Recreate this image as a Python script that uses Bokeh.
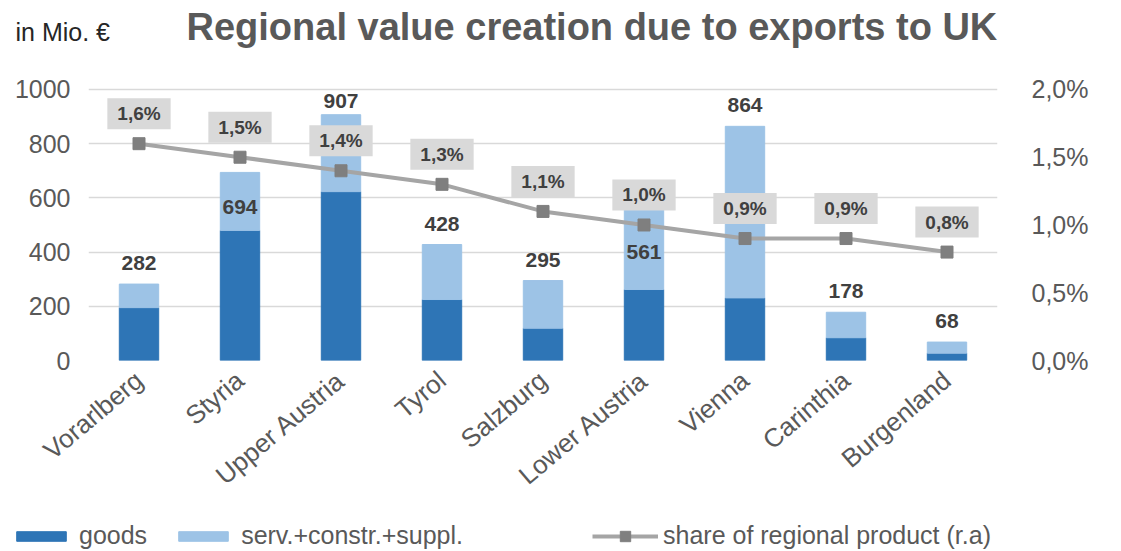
from bokeh.plotting import figure
from bokeh.layouts import column
from bokeh.models import (FactorRange, Range1d, LinearAxis, FixedTicker, CustomJSTickFormatter,
                          Label, Legend, LegendItem, ColumnDataSource)
from bokeh.embed import file_html
from bokeh.resources import INLINE
from bokeh.core.properties import value

# ---- data ----
regions = ["Vorarlberg", "Styria", "Upper Austria", "Tyrol", "Salzburg",
           "Lower Austria", "Vienna", "Carinthia", "Burgenland"]
goods = [195, 480, 623, 225, 119, 262, 231, 84, 27]
services = [87, 214, 284, 203, 176, 299, 633, 94, 41]
totals = [282, 694, 907, 428, 295, 561, 864, 178, 68]
share = [1.6, 1.5, 1.4, 1.3, 1.1, 1.0, 0.9, 0.9, 0.8]
left_ticks = [0, 200, 400, 600, 800, 1000]
right_ticks = [0.0, 0.5, 1.0, 1.5, 2.0]

title_text = "Regional value creation due to exports to UK"
unit_text = "in Mio. €"
legend_labels = ["goods", "serv.+constr.+suppl.", "share of regional product (r.a)"]

FONT = "Liberation Sans"
DARK = "#404040"
GREY = "#595959"
C_GOODS = "#2e75b6"
C_SERV = "#9dc3e6"
C_LINE = "#a5a5a5"
C_MARK = "#7f7f7f"
W = 1113
TOP = 1070           # left axis range top (a little head room above 1000)
TOP_R = TOP / 500.0  # matching right axis range top (1000 <-> 2,0%)

# label placement: most totals sit above the bar, two are drawn inside the bar
special_offsets = {"Styria": 35, "Lower Austria": 44, "Upper Austria": -14}
label_offsets = [special_offsets.get(r, -21) for r in regions]

src = ColumnDataSource(dict(
    cat=regions, goods=goods, serv=services, total=totals,
    total_txt=[str(t) for t in totals], share=share,
    share_txt=[("%.1f%%" % s).replace(".", ",") for s in share],
    lab_off=label_offsets,
))

# ---------------- header (title + unit) ----------------
header = figure(width=W, height=66, x_range=Range1d(0, 1), y_range=Range1d(0, 1),
                output_backend="svg", toolbar_location=None, min_border=0,
                x_axis_location=None, y_axis_location=None)
header.frame_align = False
header.outline_line_color = None
header.grid.visible = False
header.add_layout(Label(x=186, y=40, x_units="screen", y_units="screen", text=title_text,
                        text_font=FONT, text_font_size="38px", text_font_style="bold",
                        text_color=GREY, text_baseline="alphabetic"))
header.add_layout(Label(x=15, y=35, x_units="screen", y_units="screen", text=unit_text,
                        text_font=FONT, text_font_size="25px",
                        text_color="#262626", text_baseline="alphabetic"))

# ---------------- main chart ----------------
p = figure(x_range=FactorRange(factors=regions), y_range=Range1d(0, TOP),
           width=W, height=4 + 290 + 150, output_backend="svg", toolbar_location=None,
           min_border_left=88, min_border_right=116, min_border_top=4, min_border_bottom=150)
p.frame_align = False
p.extra_y_ranges = {"share": Range1d(0, TOP_R)}
p.outline_line_color = None

p.vbar_stack(["goods", "serv"], x="cat", width=0.39, source=src,
             fill_color=[C_GOODS, C_SERV], line_color=[C_GOODS, C_SERV])

p.line("cat", "share", source=src, y_range_name="share", line_color=C_LINE, line_width=4)
p.scatter("cat", "share", source=src, y_range_name="share", marker="square",
          size=12, fill_color=C_MARK, line_color=C_MARK)

# total labels
p.text("cat", "total", text="total_txt", source=src, y_offset="lab_off",
       text_align="center", text_baseline="middle", text_font=value(FONT),
       text_font_style="bold", text_font_size="21px", text_color=DARK)

# share labels in grey boxes
p.text("cat", "share", text="share_txt", source=src, y_range_name="share", y_offset=-30,
       text_align="center", text_baseline="middle", text_font=value(FONT),
       text_font_style="bold", text_font_size="19px", text_color=DARK,
       background_fill_color="#d9d9d9", padding=(10, 5))

yl = p.yaxis[0]
yl.ticker = FixedTicker(ticks=left_ticks)
yr = LinearAxis(y_range_name="share", ticker=FixedTicker(ticks=right_ticks),
                formatter=CustomJSTickFormatter(code="return tick.toFixed(1).replace('.', ',') + '%';"))
p.add_layout(yr, "right")
for ax in [yl, yr, p.xaxis[0]]:
    ax.axis_line_color = None
    ax.major_tick_line_color = None
    ax.minor_tick_line_color = None
    ax.major_tick_out = 0
    ax.major_tick_in = 0
    ax.major_label_text_font = FONT
    ax.major_label_text_font_size = "25px"
    ax.major_label_text_color = GREY
yl.major_label_standoff = 18
yr.major_label_standoff = 34
p.xaxis[0].major_label_text_font_size = "26px"
p.xaxis[0].major_label_orientation = 0.70
p.xaxis[0].major_label_standoff = 16

p.xgrid.grid_line_color = None
p.ygrid.grid_line_color = "#d9d9d9"
p.ygrid.grid_line_width = 1.5

# ---------------- footer (legend) ----------------
footer = figure(width=W, height=40, x_range=Range1d(0, 1), y_range=Range1d(0, 1),
                output_backend="svg", toolbar_location=None, min_border=0,
                x_axis_location=None, y_axis_location=None)
footer.frame_align = False
footer.outline_line_color = None
footer.grid.visible = False
# legend proxies: one point each, placed outside the visible range
lg_goods = footer.vbar(x=[5], top=[5], width=0.5, fill_color=C_GOODS, line_color=C_GOODS)
lg_serv = footer.vbar(x=[5], top=[5], width=0.5, fill_color=C_SERV, line_color=C_SERV)
lg_line = footer.line(x=[5, 6], y=[5, 5], line_color=C_LINE, line_width=4)
lg_mark = footer.scatter(x=[5], y=[5], marker="square", size=11, fill_color=C_MARK, line_color=C_MARK)

common = dict(orientation="horizontal", label_text_font=FONT, label_text_font_size="25px",
              label_text_color=GREY, padding=0, margin=0,
              border_line_alpha=0, background_fill_alpha=0)
leg1 = Legend(items=[LegendItem(label=legend_labels[0], renderers=[lg_goods]),
                     LegendItem(label=legend_labels[1], renderers=[lg_serv])],
              location=(10, 0), glyph_width=62, glyph_height=12, label_height=12,
              spacing=25, label_standoff=7, **common)
leg2 = Legend(items=[LegendItem(label=legend_labels[2], renderers=[lg_line, lg_mark])],
              location=(592, 0), glyph_width=66, glyph_height=26, label_height=12,
              label_standoff=5, **common)
footer.add_layout(leg1)
footer.add_layout(leg2)

layout = column(header, p, footer, spacing=0)
open("out.html", "w").write(file_html(layout, INLINE))
